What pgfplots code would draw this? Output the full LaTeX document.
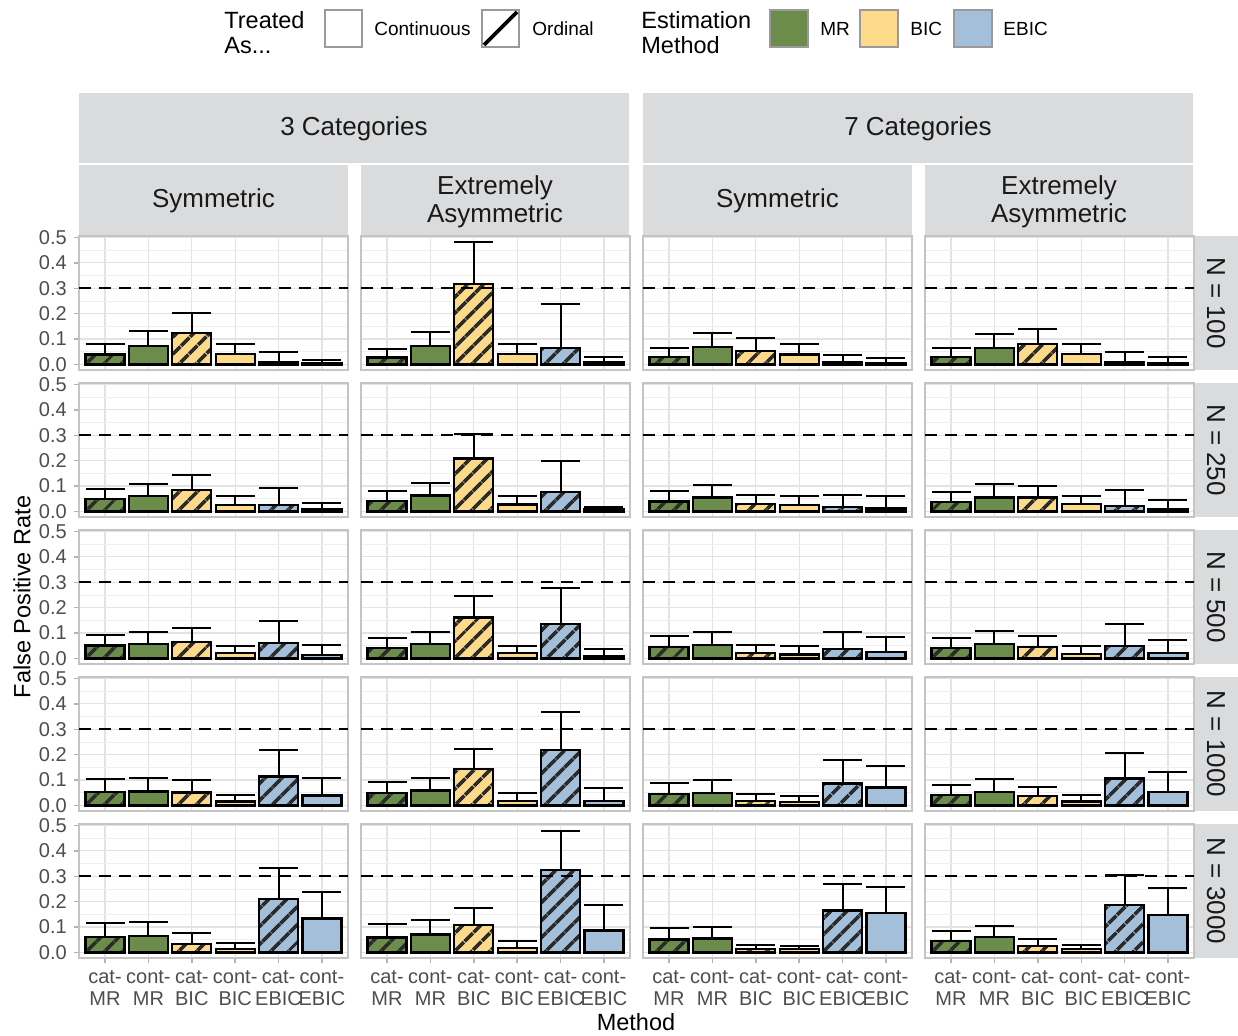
\documentclass[border=0pt]{standalone}
\usepackage{pgfplots}
\pgfplotsset{compat=1.18}
\usepackage{pgfplotstable}
\usetikzlibrary{patterns.meta}
\usepackage{fontspec}
\setmainfont{Liberation Sans}

\definecolor{cMR}{HTML}{6B8C4A}
\definecolor{cBIC}{HTML}{FDD98A}
\definecolor{cEBIC}{HTML}{A3BFD9}
\definecolor{stripc}{HTML}{DADBDD}
\definecolor{hatchc}{HTML}{2B2B2B}
\definecolor{border}{HTML}{C4C4C4}
\definecolor{gridmaj}{HTML}{E3E3E3}
\definecolor{gridmin}{HTML}{EFEFEF}
\definecolor{tickc}{HTML}{B3B3B3}
\definecolor{labc}{HTML}{4D4D4D}
\definecolor{legbord}{HTML}{9A9A9A}

% Mean false positive rate (m) and SD (s) per method, one table per sample size.
% A = 3 cat. symmetric, B = 3 cat. extremely asymmetric,
% C = 7 cat. symmetric, D = 7 cat. extremely asymmetric.
% Rows: cat-MR, cont-MR, cat-BIC, cont-BIC, cat-EBIC, cont-EBIC
\pgfplotstableread{
x Am    As    Bm    Bs    Cm    Cs    Dm    Ds
1 0.039 0.042 0.027 0.032 0.030 0.035 0.029 0.034
2 0.073 0.059 0.072 0.056 0.068 0.057 0.065 0.054
3 0.125 0.077 0.317 0.166 0.052 0.051 0.081 0.059
4 0.042 0.039 0.042 0.039 0.039 0.043 0.042 0.040
5 0.010 0.037 0.065 0.174 0.007 0.030 0.008 0.039
6 0.006 0.010 0.007 0.024 0.005 0.021 0.005 0.026
}\Nhundred
\pgfplotstableread{
x Am    As    Bm    Bs    Cm    Cs    Dm    Ds
1 0.048 0.042 0.041 0.038 0.039 0.042 0.037 0.039
2 0.060 0.047 0.063 0.050 0.055 0.050 0.055 0.054
3 0.084 0.060 0.208 0.096 0.030 0.035 0.055 0.047
4 0.026 0.034 0.027 0.033 0.025 0.034 0.029 0.033
5 0.026 0.068 0.076 0.124 0.016 0.049 0.022 0.062
6 0.009 0.026 0.007 0.010 0.012 0.048 0.009 0.037
}\Ntwofifty
\pgfplotstableread{
x Am    As    Bm    Bs    Cm    Cs    Dm    Ds
1 0.051 0.043 0.041 0.041 0.046 0.042 0.042 0.039
2 0.058 0.045 0.058 0.047 0.054 0.049 0.058 0.049
3 0.065 0.053 0.161 0.084 0.020 0.034 0.045 0.045
4 0.021 0.029 0.021 0.029 0.016 0.031 0.018 0.030
5 0.060 0.089 0.135 0.141 0.037 0.069 0.050 0.084
6 0.014 0.038 0.009 0.029 0.026 0.059 0.020 0.053
}\Nfivehundred
\pgfplotstableread{
x Am    As    Bm    Bs    Cm    Cs    Dm    Ds
1 0.052 0.051 0.048 0.044 0.046 0.044 0.042 0.040
2 0.055 0.052 0.059 0.050 0.050 0.049 0.054 0.052
3 0.051 0.048 0.144 0.077 0.018 0.025 0.037 0.035
4 0.016 0.026 0.018 0.030 0.014 0.023 0.016 0.026
5 0.114 0.106 0.217 0.153 0.086 0.091 0.106 0.101
6 0.039 0.068 0.018 0.050 0.071 0.083 0.054 0.077
}\Nthousand
\pgfplotstableread{
x Am    As    Bm    Bs    Cm    Cs    Dm    Ds
1 0.062 0.053 0.059 0.051 0.051 0.046 0.046 0.040
2 0.065 0.055 0.071 0.055 0.055 0.047 0.060 0.045
3 0.034 0.041 0.107 0.068 0.014 0.016 0.025 0.026
4 0.014 0.025 0.018 0.027 0.013 0.014 0.014 0.017
5 0.211 0.121 0.325 0.155 0.165 0.103 0.188 0.116
6 0.134 0.106 0.086 0.100 0.156 0.103 0.147 0.106
}\Nthreethousand

\pgfplotsset{
  panel/.style={
    scale only axis, width=134.5pt, height=67pt, anchor=north west,
    xmin=0.4, xmax=6.6, ymin=-0.022, ymax=0.506,
    xtick={1,2,3,4,5,6}, ytick={0,0.1,0.2,0.3,0.4,0.5},
    minor ytick={0.05,0.15,0.25,0.35,0.45},
    grid=both,
    major grid style={draw=gridmaj, line width=0.6pt},
    minor grid style={draw=gridmin, line width=0.45pt},
    axis line style={draw=border, line width=0.8pt},
    tick align=outside, tick pos=left,
    major tick length=2.6pt, minor tick length=0pt,
    tick style={draw=tickc, line width=0.7pt},
    tick label style={font=\fontsize{10}{11.2}\selectfont, text=labc},
    yticklabel style={/pgf/number format/.cd, fixed, fixed zerofill, precision=1, assume math mode=true},
    xticklabel style={align=center},
    xticklabels={{cat-\\MR},{cont-\\MR},{cat-\\BIC},{cont-\\BIC},{cat-\\EBIC},{cont-\\EBIC}},
  },
  inner/.style={yticklabels={}, ytick style={draw=none}},
  notbottom/.style={xticklabels={}, xtick style={draw=none}},
  barbase/.style={
    ybar, bar width=0.9, bar shift=0pt, draw=black, line width=1.15pt,
    error bars/y dir=plus, error bars/y explicit,
    error bars/error bar style={line width=1pt, black, solid},
    error bars/error mark options={rotate=90, mark size=9.76pt, line width=1pt, black},
  },
  hatch/.style={postaction={pattern={Lines[angle=45,distance=6.5pt,line width=2pt]}, pattern color=hatchc}},
  bar1/.style={barbase, fill=cMR, hatch},
  bar2/.style={barbase, fill=cMR},
  bar3/.style={barbase, fill=cBIC, hatch},
  bar4/.style={barbase, fill=cBIC},
  bar5/.style={barbase, fill=cEBIC, hatch},
  bar6/.style={barbase, fill=cEBIC},
}

% #1 facet column, #2 facet row, #3 table, #4 column prefix, #5 extra axis keys
\newcommand\panel[5]{%
  \begin{axis}[panel, at={(39.5pt+141pt*#1,-118pt-73.5pt*#2)}, #5]
    \pgfplotsinvokeforeach{1,...,6}{%
      \addplot[bar##1, x filter/.expression={abs(x-##1)<0.1 ? x : nan}]
        table[x=x, y=#4m, y error=#4s] {#3};
    }
    \addplot[black, line width=1pt, dash pattern=on 6pt off 4pt, forget plot]
      coordinates {(0.4,0.3) (6.6,0.3)};
  \end{axis}%
}

\newcommand\panelrow[3]{% #1 row, #2 table, #3 extra keys
  \panel{0}{#1}{#2}{A}{#3}
  \panel{1}{#1}{#2}{B}{inner,#3}
  \panel{2}{#1}{#2}{C}{inner,#3}
  \panel{3}{#1}{#2}{D}{inner,#3}
}

\begin{document}
\begin{tikzpicture}
  % decorations laid out in a half-point grid, y pointing down
  \begin{scope}[x=0.5pt, y=-0.5pt]
  \useasboundingbox (0,0) rectangle (1238,1036);

  % legend
  \begin{scope}[every node/.style={inner sep=0pt, anchor=west}]
    \node[align=left, font=\fontsize{11.75}{12.5}\selectfont] at (224,33) {Treated\\As...};
    \draw[legbord, line width=0.7pt, fill=white] (325,10) rectangle (362,47);
    \node[font=\fontsize{9.5}{11}\selectfont] at (374,29) {Continuous};
    \draw[legbord, line width=0.7pt, fill=white] (482,10) rectangle (519,47);
    \draw[black, line width=1.8pt] (484,45) -- (517,12);
    \node[font=\fontsize{9.5}{11}\selectfont] at (532,29) {Ordinal};
    \node[align=left, font=\fontsize{11.75}{12.5}\selectfont] at (641,33) {Estimation\\Method};
    \draw[legbord, line width=0.7pt, fill=cMR] (770,10) rectangle (808,47);
    \node[font=\fontsize{9.5}{11}\selectfont] at (820,29) {MR};
    \draw[legbord, line width=0.7pt, fill=cBIC] (860,10) rectangle (898,47);
    \node[font=\fontsize{9.5}{11}\selectfont] at (910,29) {BIC};
    \draw[legbord, line width=0.7pt, fill=cEBIC] (954,10) rectangle (992,47);
    \node[font=\fontsize{9.5}{11}\selectfont] at (1003,29) {EBIC};
  \end{scope}

  % facet strips
  \begin{scope}[every node/.style={font=\fontsize{13}{14}\selectfont, text=black!90, align=center}]
    \fill[stripc] (79,93) rectangle (629,163);
    \fill[stripc] (643,93) rectangle (1193,163);
    \node at (354,129) {3 Categories};
    \node at (918,129) {7 Categories};
    \fill[stripc] (79,165) rectangle (348,235);
    \fill[stripc] (361,165) rectangle (629,235);
    \fill[stripc] (643,165) rectangle (912,235);
    \fill[stripc] (925,165) rectangle (1193,235);
    \node at (213.5,201) {Symmetric};
    \node at (495,202) {Extremely\\Asymmetric};
    \node at (777.5,201) {Symmetric};
    \node at (1059,202) {Extremely\\Asymmetric};
    \foreach \r/\lab in {0/100,1/250,2/500,3/1000,4/3000}{
      \fill[stripc] (1195,236+147*\r) rectangle (1238,370+147*\r);
      \node[rotate=-90] at (1216,303+147*\r) {N = \lab};
    }
  \end{scope}

  % axis titles
  \node[font=\fontsize{11.75}{13}\selectfont, rotate=90] at (22,597) {False Positive Rate};
  \node[font=\fontsize{11.75}{13}\selectfont] at (636,1022) {Method};
  \end{scope}

  % panels
  \panelrow{0}{\Nhundred}{notbottom}
  \panelrow{1}{\Ntwofifty}{notbottom}
  \panelrow{2}{\Nfivehundred}{notbottom}
  \panelrow{3}{\Nthousand}{notbottom}
  \panelrow{4}{\Nthreethousand}{}
\end{tikzpicture}
\end{document}
